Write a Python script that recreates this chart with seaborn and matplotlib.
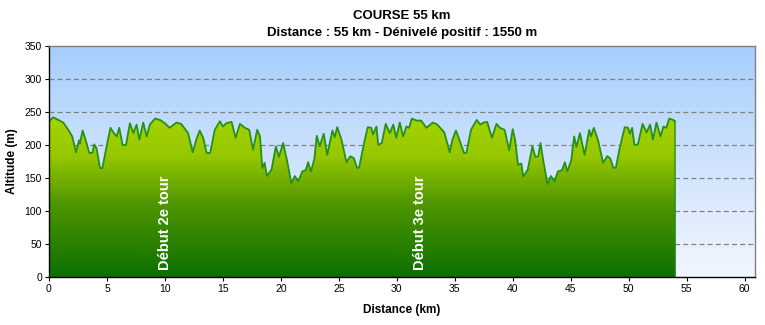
import numpy as np
import pandas as pd
import matplotlib
matplotlib.use("Agg")
import matplotlib.pyplot as plt
import seaborn as sns
from matplotlib.colors import LinearSegmentedColormap

title = "COURSE 55 km\nDistance : 55 km - Dénivelé positif : 1550 m"
x_label = "Distance (km)"
y_label = "Altitude (m)"
x_ticks = list(range(0, 61, 5))
y_ticks = list(range(0, 351, 50))
annotations = ["Début 2e tour", "Début 3e tour"]
annotation_km = [10.0, 32.0]

distance_km = [0.0, 0.37, 0.8, 1.23, 1.67, 2.0, 2.33, 2.59, 2.66, 2.9, 3.1, 3.48, 3.74,
               3.9, 4.1, 4.4, 4.6, 4.97, 5.3, 5.6, 5.84, 6.06, 6.35, 6.64, 6.98, 7.27,
               7.56, 7.79, 8.13, 8.42, 8.7, 9.14, 9.57, 10.0, 10.4, 11.0, 11.4, 12.0,
               12.4, 12.7, 13.0, 13.3, 13.6, 13.9, 14.3, 14.74, 15.0, 15.3, 15.75, 16.1,
               16.47, 16.9, 17.27, 17.6, 17.96, 18.2, 18.4, 18.6, 18.8, 19.2, 19.57,
               19.83, 20.2, 20.55, 20.9, 21.2, 21.5, 21.85, 22.15, 22.35, 22.6, 22.9,
               23.1, 23.35, 23.7, 24.0, 24.45, 24.65, 24.86, 25.23, 25.66, 26.0, 26.3,
               26.58, 26.75, 27.24, 27.5, 27.8, 27.95, 28.25, 28.4, 28.7, 29.05, 29.4,
               29.7, 29.95, 30.26, 30.55, 30.83, 31.06, 31.3, 31.7, 32.1, 32.56, 33.1,
               33.5, 34.1, 34.57, 34.8, 35.1, 35.4, 35.8, 36.0, 36.4, 36.9, 37.2, 37.5,
               37.8, 38.2, 38.6, 38.9, 39.3, 39.7, 40.0, 40.2, 40.46, 40.75, 40.9, 41.3,
               41.7, 41.95, 42.2, 42.4, 42.6, 43.0, 43.3, 43.6, 43.9, 44.25, 44.5, 44.7,
               45.05, 45.3, 45.5, 45.8, 46.2, 46.6, 46.75, 47.0, 47.35, 47.8, 48.15, 48.4,
               48.7, 48.9, 49.2, 49.66, 49.95, 50.1, 50.3, 50.5, 50.8, 51.2, 51.55, 51.85,
               52.1, 52.4, 52.75, 53.0, 53.25, 53.5, 53.85, 54.0, 54.02]
altitude_m = [236, 242, 238, 234, 223, 213, 189, 207, 202, 222, 211, 188, 188,
              201, 195, 165, 165, 198, 226, 218, 213, 226, 200, 200, 233, 218,
              231, 208, 234, 213, 231, 240, 238, 233, 226, 234, 232, 218,
              189, 208, 222, 211, 188, 188, 223, 236, 228, 233, 235, 211,
              232, 226, 223, 193, 223, 213, 165, 173, 153, 163, 198,
              182, 203, 175, 142, 153, 145, 160, 162, 174, 160, 180,
              214, 198, 217, 185, 222, 212, 227, 208, 174, 183, 180,
              165, 166, 208, 227, 226, 216, 228, 200, 203, 232, 218,
              231, 211, 234, 213, 228, 226, 240, 237, 237, 226, 234,
              231, 219, 189, 208, 222, 208, 188, 188, 223, 238, 231, 234,
              235, 211, 232, 226, 223, 192, 224, 208, 170, 172, 152, 163,
              198, 182, 183, 203, 180, 141, 153, 145, 160, 162, 174, 160,
              177, 213, 197, 218, 185, 223, 213, 226, 208, 173, 183, 180,
              165, 166, 193, 227, 226, 217, 226, 200, 201, 232, 219, 231,
              208, 234, 213, 228, 226, 240, 238, 236, 0]

df = pd.DataFrame({"distance": distance_km, "altitude": altitude_m})

sns.set_theme(style="white")
plt.rcParams["font.family"] = ["Liberation Sans Narrow", "Liberation Sans", "DejaVu Sans"]
plt.rcParams["text.color"] = "black"
plt.rcParams["axes.labelcolor"] = "black"

fig = plt.figure(figsize=(7.65, 3.25), dpi=100)
ax = fig.add_axes([49 / 765, 1 - 277 / 325, (755 - 49) / 765, (277 - 46) / 325])

xmax, ymax = 60.9, 350
ax.set_xlim(0, xmax)
ax.set_ylim(0, ymax)

# background gradient
bg_cmap = LinearSegmentedColormap.from_list("bg", ["#f2f7ff", "#cfe3fd", "#a6cefc"])
grad = np.linspace(0, 1, 256).reshape(-1, 1)
ax.imshow(grad, extent=[0, xmax, 0, ymax], origin="lower", aspect="auto",
          cmap=bg_cmap, zorder=0)

# gridlines
for yv in y_ticks[1:-1]:
    ax.axhline(yv, color="#808080", lw=0.9, ls=(0, (4, 2.5)), zorder=1)

# filled profile with gradient
poly = ax.fill_between(df["distance"], df["altitude"], 0, color="none", lw=0, zorder=2)
fill_cmap = LinearSegmentedColormap.from_list(
    "fill", [(0.0, "#0b6f00"), (0.45, "#4f9600"), (0.75, "#96c800"), (1.0, "#a6d400")])
im = ax.imshow(np.linspace(0, 1, 256).reshape(-1, 1), extent=[0, xmax, 0, 245],
               origin="lower", aspect="auto", cmap=fill_cmap, zorder=2)
path = poly.get_paths()[0]
im.set_clip_path(path, transform=ax.transData)

sns.lineplot(data=df.iloc[:-1], x="distance", y="altitude", ax=ax, color="#25901a",
             lw=1.3, zorder=3, estimator=None, sort=False)
ax.plot([df["distance"].iloc[-2], df["distance"].iloc[-1]],
        [df["altitude"].iloc[-2], 0], color="#25901a", lw=1.0, zorder=3)

for label, km in zip(annotations, annotation_km):
    ax.text(km, 10, label, rotation=90, color="white", fontsize=10.5, fontweight="bold",
            ha="center", va="bottom", zorder=4)

ax.set_xticks(x_ticks)
ax.set_yticks(y_ticks)
ax.tick_params(axis="both", which="both", direction="out", length=3, width=0.8,
               labelsize=7.5, pad=2, colors="black", labelcolor="black",
               bottom=True, left=True)
ax.set_xlabel(x_label, fontsize=8.5, fontweight="bold", labelpad=7)
ax.set_ylabel(y_label, fontsize=8.5, fontweight="bold", labelpad=5)
ax.set_title(title, fontsize=9.5, fontweight="bold", pad=7, linespacing=1.55,
             color="black")

for side in ["left", "bottom"]:
    ax.spines[side].set_color("black")
    ax.spines[side].set_linewidth(1.0)
for side in ["top", "right"]:
    ax.spines[side].set_color("#808080")
    ax.spines[side].set_linewidth(1.0)
for s in ax.spines.values():
    s.set_zorder(5)

fig.savefig("out.png", dpi=100)
